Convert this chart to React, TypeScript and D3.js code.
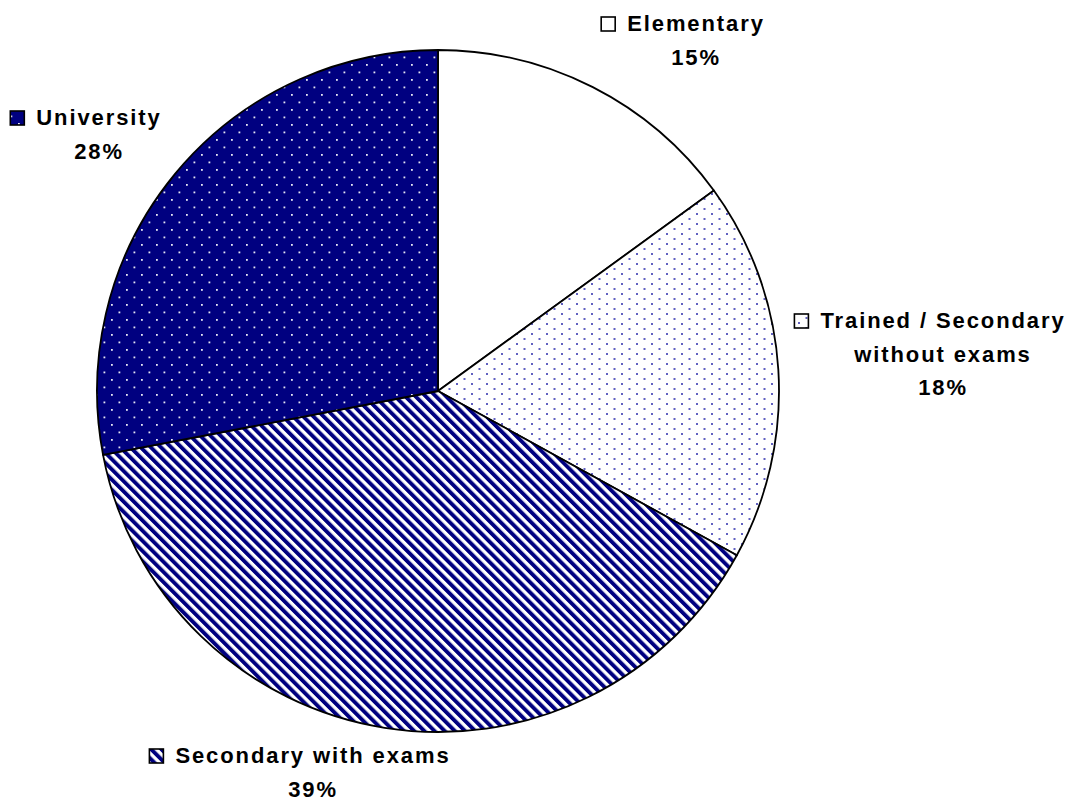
import React, { useEffect, useRef } from "react";
import * as d3 from "d3";

const categories = ["Elementary", "Trained / Secondary without exams", "Secondary with exams", "University"];
const values = [15, 18, 39, 28];
const labelLines = [["Elementary"], ["Trained / Secondary", "without exams"], ["Secondary with exams"], ["University"]];
const percentLabels = ["15%", "18%", "39%", "28%"];
const fills = ["#ffffff", "url(#pTrained)", "url(#pStripes)", "url(#pUniv)"];

const W = 1075;
const H = 800;
const CX = 438;
const CY = 391;
const R = 341;
const labelPos: [number, number][] = [
  [695, 31],
  [942, 328],
  [312, 763],
  [98, 125],
];
const LINE_H = 33.5;
const NAVY = "#000080";

export default function App() {
  const ref = useRef<SVGSVGElement>(null);

  useEffect(() => {
    const svg = d3.select(ref.current);
    svg.selectAll("*").remove();
    const defs = svg.append("defs");

    const p1 = defs.append("pattern").attr("id", "pTrained").attr("patternUnits", "userSpaceOnUse")
      .attr("width", 15).attr("height", 10);
    p1.append("rect").attr("width", 15).attr("height", 10).attr("fill", "#fff");
    p1.append("rect").attr("x", 3).attr("y", 2).attr("width", 2).attr("height", 2).attr("fill", "#3a3ab0").attr("opacity", 0.8);
    p1.append("rect").attr("x", 10.5).attr("y", 7).attr("width", 2).attr("height", 2).attr("fill", "#3a3ab0").attr("opacity", 0.8);

    const p2 = defs.append("pattern").attr("id", "pStripes").attr("patternUnits", "userSpaceOnUse")
      .attr("width", 7.2).attr("height", 7.2).attr("patternTransform", "rotate(-45)");
    p2.append("rect").attr("width", 7.2).attr("height", 7.2).attr("fill", "#fff");
    p2.append("rect").attr("width", 3.9).attr("height", 7.2).attr("fill", NAVY);

    const p3 = defs.append("pattern").attr("id", "pUniv").attr("patternUnits", "userSpaceOnUse")
      .attr("width", 15).attr("height", 15);
    p3.append("rect").attr("width", 15).attr("height", 15).attr("fill", NAVY);
    p3.append("rect").attr("x", 3).attr("y", 3).attr("width", 1.8).attr("height", 1.8).attr("fill", "#fff").attr("opacity", 0.9);
    p3.append("rect").attr("x", 10.5).attr("y", 10.5).attr("width", 1.8).attr("height", 1.8).attr("fill", "#fff").attr("opacity", 0.9);

    const pie = d3.pie<number>().sort(null).value((d) => d).startAngle(0).endAngle(2 * Math.PI);
    const arc = d3.arc<d3.PieArcDatum<number>>().innerRadius(0).outerRadius(R);
    const arcs = pie(values);

    svg.append("g").attr("transform", `translate(${CX},${CY})`)
      .selectAll("path").data(arcs).join("path")
      .attr("d", arc)
      .attr("fill", (_d, i) => fills[i])
      .attr("stroke", "#000")
      .attr("stroke-width", 1.8)
      .attr("stroke-linejoin", "round");

    const lg = svg.append("g")
      .attr("font-family", "'Liberation Sans', Arial, Helvetica, sans-serif")
      .attr("font-weight", "bold")
      .attr("font-size", 22)
      .attr("fill", "#000");

    categories.forEach((_c, i) => {
      const [x, y] = labelPos[i];
      const lines = [...labelLines[i], percentLabels[i]];
      let firstWidth = 0;
      lines.forEach((ln, j) => {
        const t = lg.append("text")
          .attr("x", x + 1)
          .attr("y", y + j * LINE_H)
          .attr("text-anchor", "middle")
          .attr("letter-spacing", 1.9)
          .text(ln);
        if (j === 0) {
          const node = t.node() as SVGTextElement;
          firstWidth = node.getComputedTextLength();
        }
      });
      const ms = 14;
      const mx = x - firstWidth / 2 - 11 - ms;
      svg.append("rect")
        .attr("x", mx)
        .attr("y", y - ms)
        .attr("width", ms)
        .attr("height", ms)
        .attr("fill", fills[i])
        .attr("stroke", "#000")
        .attr("stroke-width", 1.6);
    });
  }, []);

  return (
    <svg
      ref={ref}
      width={W}
      height={H}
      style={{ position: "absolute", left: 0, top: 0, display: "block", background: "#fff" }}
    />
  );
}
